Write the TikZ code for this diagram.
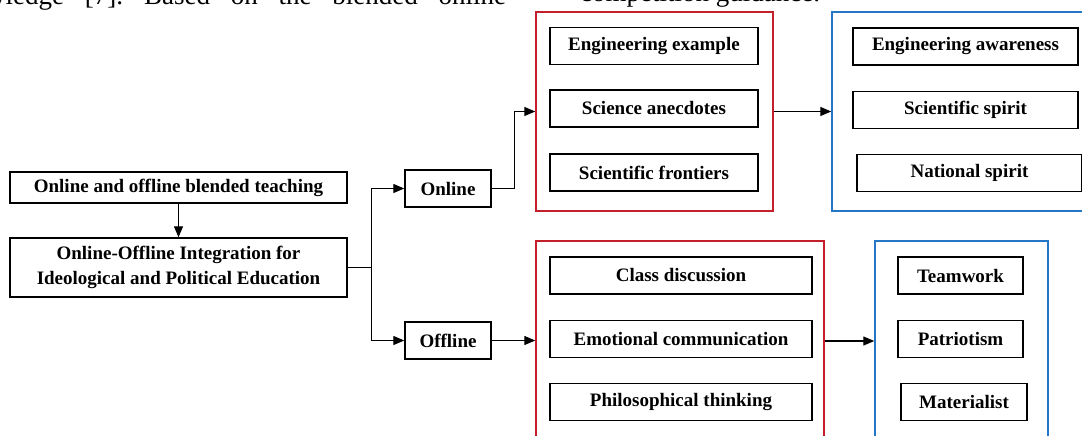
\documentclass[tikz,border=0pt]{standalone}
\usepackage{fontspec}
\setmainfont{Liberation Serif}
\usetikzlibrary{arrows.meta}
\newcommand{\unitsize}{1pt}
\definecolor{framered}{RGB}{196,32,44}
\definecolor{frameblue}{RGB}{38,118,198}

\begin{document}
\frenchspacing
\begin{tikzpicture}[x=\unitsize,y=-\unitsize,
	box/.style={draw, line width=1.5pt, inner sep=0pt, minimum height=37pt, align=center, font=\fontsize{19}{25}\selectfont\bfseries},
	grp/.style={draw, line width=1.5pt, inner sep=0pt},
	arr/.style={line width=1.3pt, -{Triangle[length=11pt,width=9pt]}},
	bodytext/.style={anchor=base west, inner sep=0pt, font=\fontsize{27}{30}\selectfont}]
	\useasboundingbox (0,0) rectangle (1082,436);
	\clip (0,0) rectangle (1082,436);

	\node[bodytext] (prevline) at (-14,5) {\makebox[520pt][s]{wledge [7]. Based on the blended online}};
	\node[bodytext] (nextline) at (580,2) {competition guidance.};

	\node[box, minimum width=337pt, minimum height=31pt] (teach) at (178.5,187.5) {Online and offline blended teaching};
	\node[box, minimum width=337pt, minimum height=59pt] (integ) at (178.5,267.5) {Online-Offline Integration for\\Ideological and Political Education};
	\node[box, minimum width=86pt] (online) at (448,188.5) {Online};
	\node[box, minimum width=86pt] (offline) at (448,340.5) {Offline};

	\node[grp, draw=framered, minimum width=237pt, minimum height=199pt] (ongrp) at (654.5,111.5) {};
	\node[box, minimum width=208pt] (engex) at (654,46) {Engineering example};
	\node[box, minimum width=208pt] (anec) at (654,108.5) {Science anecdotes};
	\node[box, minimum width=208pt] (front) at (654,172.5) {Scientific frontiers};

	\node[grp, draw=frameblue, minimum width=266pt, minimum height=199pt] (onres) at (965,111.5) {};
	\node[box, minimum width=225pt] (engaw) at (965.5,46.5) {Engineering awareness};
	\node[box, minimum width=225pt] (scisp) at (965.5,110) {Scientific spirit};
	\node[box, minimum width=225pt] (natsp) at (969.5,173) {National spirit};

	\node[grp, draw=framered, minimum width=288pt, minimum height=200pt] (offgrp) at (680,341) {};
	\node[box, minimum width=262pt] (disc) at (681,275.5) {Class discussion};
	\node[box, minimum width=262pt] (emo) at (681,339) {Emotional communication};
	\node[box, minimum width=262pt] (philo) at (681,402) {Philosophical thinking};

	\node[grp, draw=frameblue, minimum width=173pt, minimum height=200pt] (offres) at (961.5,341) {};
	\node[box, minimum width=125pt] (team) at (960.5,275.5) {Teamwork};
	\node[box, minimum width=125pt] (patr) at (960.5,339) {Patriotism};
	\node[box, minimum width=126pt] (mater) at (964,402) {Materialist};

	\draw[arr] (teach) -- (integ);
	\draw[line width=1.3pt] (integ.east) -- ++(24,0) coordinate (split);
	\draw[arr] (split) |- (online.west);
	\draw[arr] (split) |- (offline.west);
	\draw[arr] (online.east) -- ++(23,0) |- (ongrp.west);
	\draw[arr] (offline.east) -- (offline.east -| offgrp.west);
	\draw[arr] (ongrp.east) -- (onres.west);
	\draw[arr] (offgrp.east) -- (offres.west);
\end{tikzpicture}
\end{document}
